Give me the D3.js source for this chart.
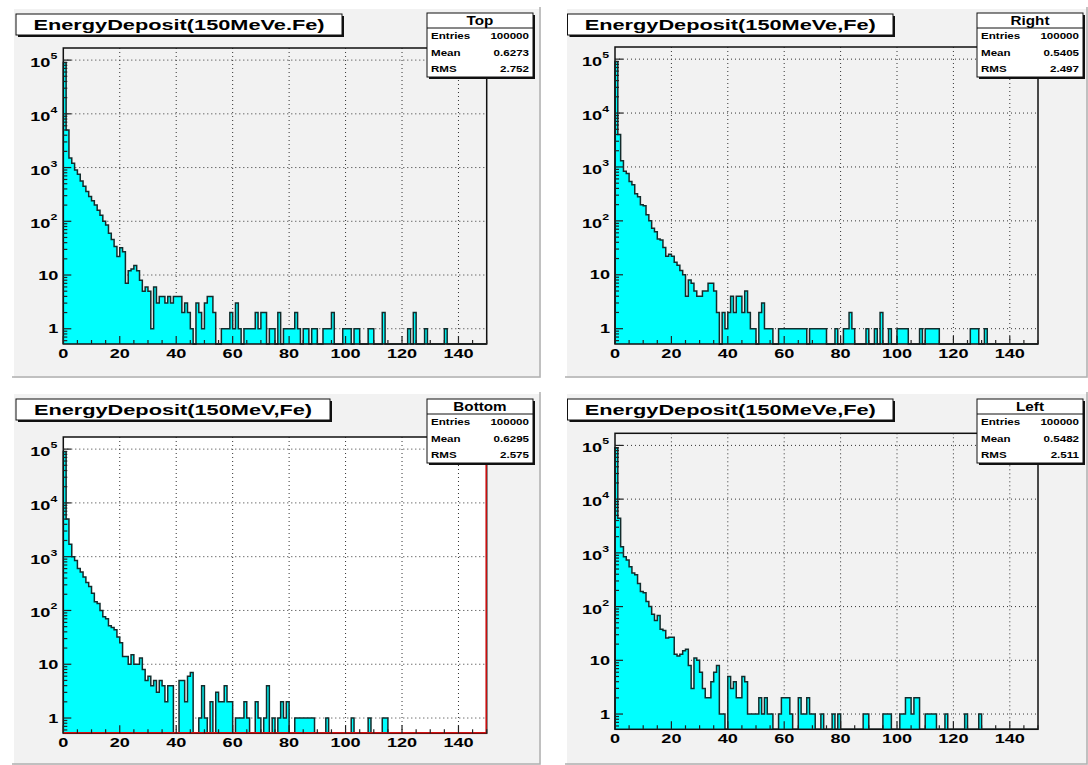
<!DOCTYPE html>
<html><head><meta charset="utf-8">
<script src="https://cdn.jsdelivr.net/npm/d3@7"></script>
<style>
body{margin:0;background:#fff;}
svg{display:block;}
text{font-family:"Liberation Sans",Arial,sans-serif;font-weight:bold;fill:#000;}
</style>
</head><body>
<svg id="c" width="1088" height="765"></svg>
<script>
// ---------------- data ----------------
const xDomain = [0, 150];
const xTicks = [0, 20, 40, 60, 80, 100, 120, 140];
const yTicks = [1, 10, 100, 1000, 10000, 100000];
const yTickLabels = [["1", ""], ["10", ""], ["10", "2"], ["10", "3"], ["10", "4"], ["10", "5"]];
const histNames = ["Top", "Right", "Bottom", "Left"];
const titles = ["EnergyDeposit(150MeVe.Fe)", "EnergyDeposit(150MeVe,Fe)", "EnergyDeposit(150MeV,Fe)", "EnergyDeposit(150MeVe,Fe)"];
const entries = ["100000", "100000", "100000", "100000"];
const means = ["0.6273", "0.5405", "0.6295", "0.5482"];
const rmss = ["2.752", "2.497", "2.575", "2.511"];

const topCounts = [90000,5000,1500,1200,900,750,560,450,360,290,
 240,200,160,130,100,85,60,46,34,22,
 32,27,7,12,13,15,12,8,5,6,
 5,1,6,3,4,4,3,4,3,4,
 4,4,2,3,2,1,0,3,2,1,
 3,4,4,2,0,0,1,1,1,2,
 1,3,1,0,1,1,1,1,2,1,
 2,2,0,1,1,0,2,0,1,1,
 1,1,2,1,0,1,1,0,1,1,
 0,0,1,1,1,2,0,0,0,1,
 1,1,0,1,1,0,0,0,1,1,
 0,0,0,2,0,0,0,0,0,0,
 0,0,1,0,2,0,0,0,1,0,
 0,0,0,0,0,1,0,0,0,0,
 0,0,0,0,0,0,0,0,0,0];

const rightCounts = [90000,4000,1300,830,760,540,470,320,280,200,
 190,130,100,73,63,46,44,32,22,24,
 22,17,15,12,10,4,8,7,5,4,
 4,5,5,7,7,5,2,0,2,1,
 2,4,2,4,4,2,5,2,1,1,
 0,2,3,1,1,1,0,0,1,1,
 1,1,1,1,1,1,1,1,0,1,
 1,1,1,1,1,0,0,0,1,0,
 0,1,1,2,1,0,0,0,0,1,
 0,0,1,0,2,0,0,1,0,0,
 1,1,1,1,0,0,0,0,1,0,
 1,1,1,1,1,0,0,0,0,0,
 0,0,0,0,0,0,1,1,1,0,
 0,1,0,0,0,0,0,0,0,0,
 0,0,0,0,0,0,0,0,0,0];

const bottomCounts = [90000,5000,1700,1000,850,600,520,420,330,280,
 210,145,135,100,76,70,52,48,44,32,
 25,14,14,10,15,10,10,13,8,5,
 6,4,5,3,5,4,2,4,4,0,
 0,5,5,2,6,7,0,0,1,4,
 1,0,2,0,3,2,2,4,2,2,
 0,1,1,1,2,1,0,0,2,1,
 0,1,4,0,1,0,1,2,1,2,
 0,0,1,1,1,1,1,1,1,0,
 0,0,0,1,0,0,0,0,0,0,
 0,0,1,0,0,0,0,0,1,0,
 0,0,0,1,1,0,0,0,0,0,
 0,0,0,0,0,0,0,0,0,0,
 0,0,0,0,0,0,0,0,0,0,
 0,0,0,0,0,0,0,0,0,0];

const leftCounts = [90000,4400,1300,850,740,550,420,390,270,190,
 180,125,100,72,55,68,38,36,26,27,
 27,13,12,13,15,16,8,3,11,10,
 6,3,2,2,4,6,8,1,1,0,
 5,3,4,2,2,5,4,1,1,1,
 1,2,1,2,1,1,0,0,1,2,
 2,2,1,0,0,2,1,1,2,1,
 1,0,0,1,0,0,0,1,0,1,
 0,0,0,0,0,0,0,0,1,1,
 0,0,0,0,0,1,1,1,0,0,
 0,1,1,2,2,1,2,2,0,0,
 1,1,1,1,0,0,0,1,0,0,
 0,0,0,0,1,0,0,0,0,1,
 0,0,0,0,0,0,0,0,0,0,
 0,0,0,0,0,0,0,0,0,0];

const allCounts = [topCounts, rightCounts, bottomCounts, leftCounts];
const yDomain = [0.52, 168000];

// ---------------- layout ----------------
const layouts = [
  {pad:[12,7,541,378],  frame:[63.3,48,486.7,344],    plotBg:"#f2f2f2", title:[16,14,342,35],    stats:[427,13,533,77],   red:false},
  {pad:[565,7,1088,378],frame:[615,47,1038,344],      plotBg:"#f2f2f2", title:[567.5,14,893,35], stats:[977,13,1083,77],  red:false},
  {pad:[12,392,541,765],frame:[63.3,437,486.7,733.3], plotBg:"#ffffff", title:[16,399,330,420],  stats:[427,399,533,463], red:true},
  {pad:[565,392,1088,765],frame:[615,433.3,1038,729.3],plotBg:"#f2f2f2", title:[567.5,399,893,420], stats:[977,399,1083,463], red:false}
];

const svg = d3.select("#c");
svg.append("rect").attr("width",1088).attr("height",765).attr("fill","#ffffff");

function stext(parent, x, y, str, size, anchor, kx, sup, supSize, supDy) {
  const g = parent.append("g").attr("transform", `translate(${x},${y}) scale(${kx},1)`);
  const t = g.append("text").attr("text-anchor", anchor).attr("font-size", size).text(str);
  if (sup) t.append("tspan").attr("font-size", supSize).attr("dy", supDy).text(sup);
  return t;
}

layouts.forEach((L, k) => {
  const g = svg.append("g");
  const [px0, py0, px1, py1] = L.pad;
  // pad
  g.append("rect").attr("x",px0).attr("y",py0).attr("width",px1-px0).attr("height",py1-py0).attr("fill","#f2f2f2");
  g.append("path").attr("d",`M${px0+1},${py1}V${py0+1}H${px1}`).attr("fill","none").attr("stroke","#ffffff").attr("stroke-width",2);
  g.append("path").attr("d",`M${px0},${py1-1}H${px1-1}V${py0}`).attr("fill","none").attr("stroke","#b0b0b0").attr("stroke-width",1.5);

  const [fx0, fy0, fx1, fy1] = L.frame;
  const x = d3.scaleLinear().domain(xDomain).range([fx0, fx1]);
  const y = d3.scaleLog().domain(yDomain).range([fy1, fy0]).clamp(true);

  g.append("rect").attr("x",fx0).attr("y",fy0).attr("width",fx1-fx0).attr("height",fy1-fy0).attr("fill",L.plotBg);

  // grid
  const grid = g.append("g").attr("stroke","#333").attr("stroke-width",1).attr("stroke-dasharray","1,3");
  xTicks.filter(v => v > 0).forEach(v => {
    grid.append("line").attr("x1",x(v)).attr("x2",x(v)).attr("y1",fy0).attr("y2",fy1);
  });
  yTicks.forEach(v => {
    grid.append("line").attr("x1",fx0).attr("x2",fx1).attr("y1",y(v)).attr("y2",y(v));
  });

  // histogram
  const counts = allCounts[k];
  const pts = [[x(0), fy1]];
  counts.forEach((c, i) => {
    const yy = c > 0 ? y(c) : fy1;
    pts.push([x(i), yy]); pts.push([x(i+1), yy]);
  });
  pts.push([x(counts.length), fy1]);
  const line = d3.line();
  g.append("path").attr("d", line(pts) + "Z").attr("fill","#00ffff").attr("stroke","none");
  g.append("path").attr("d", line(pts)).attr("fill","none").attr("stroke","#142c2c").attr("stroke-width",1.5).attr("stroke-linejoin","miter");

  // frame
  g.append("rect").attr("x",fx0).attr("y",fy0).attr("width",fx1-fx0).attr("height",fy1-fy0)
    .attr("fill","none").attr("stroke","#111").attr("stroke-width",1.5);
  if (L.red) {
    g.append("path").attr("d",`M${fx0},${fy1-0.5}H${fx1-0.5}V${fy0}`).attr("fill","none").attr("stroke","#d01010").attr("stroke-width",1.5);
  }

  // x axis ticks
  const tk = g.append("g").attr("stroke","#222").attr("stroke-width",1.2);
  for (let v = 0; v <= 150; v += 5) {
    const len = (v % 20 === 0) ? 8 : 4;
    tk.append("line").attr("x1",x(v)).attr("x2",x(v)).attr("y1",fy1).attr("y2",fy1-len);
  }
  // y axis ticks (log)
  yTicks.forEach((v) => {
    tk.append("line").attr("x1",fx0).attr("x2",fx0+8).attr("y1",y(v)).attr("y2",y(v));
  });
  [0.1,1,10,100,1000,10000,100000].forEach(d => {
    for (let m = 2; m <= 9; m++) {
      const v = d*m;
      if (v < yDomain[0] || v > yDomain[1]) continue;
      tk.append("line").attr("x1",fx0).attr("x2",fx0+4).attr("y1",y(v)).attr("y2",y(v));
    }
  });

  // labels
  xTicks.forEach(v => stext(g, x(v), fy1+14, String(v), 12.5, "middle", 1.45));
  yTicks.forEach((v, i) => {
    const [base, sup] = yTickLabels[i];
    if (sup) stext(g, fx0-6, y(v)+7, base, 12.5, "end", 1.45, sup, 8.5, -8);
    else stext(g, fx0-5, y(v)+4.5, base, 12.5, "end", 1.45);
  });

  // title box
  const [tx0, ty0, tx1, ty1] = L.title;
  g.append("rect").attr("x",tx0+2).attr("y",ty0+2).attr("width",tx1-tx0).attr("height",ty1-ty0).attr("fill","#111");
  g.append("rect").attr("x",tx0).attr("y",ty0).attr("width",tx1-tx0).attr("height",ty1-ty0).attr("fill","#ffffff").attr("stroke","#111").attr("stroke-width",1);
  stext(g, (tx0+tx1)/2, ty1-5.5, titles[k], 14.5, "middle", 1.5);

  // stats box
  const [sx0, sy0, sx1, sy1] = L.stats;
  g.append("rect").attr("x",sx0+2).attr("y",sy0+2).attr("width",sx1-sx0).attr("height",sy1-sy0).attr("fill","#111");
  g.append("rect").attr("x",sx0).attr("y",sy0).attr("width",sx1-sx0).attr("height",sy1-sy0).attr("fill","#ffffff").attr("stroke","#111").attr("stroke-width",1);
  g.append("line").attr("x1",sx0).attr("x2",sx1).attr("y1",sy0+15).attr("y2",sy0+15).attr("stroke","#111").attr("stroke-width",1);
  stext(g, (sx0+sx1)/2, sy0+12, histNames[k], 12, "middle", 1.27);
  const rows = [["Entries", entries[k]], ["Mean", means[k]], ["RMS", rmss[k]]];
  rows.forEach((r, i) => {
    const yy = sy0 + 26 + i*16.5;
    stext(g, sx0+4, yy, r[0], 9.5, "start", 1.22);
    stext(g, sx1-4, yy, r[1], 9.5, "end", 1.22);
  });
});
</script>
</body></html>
